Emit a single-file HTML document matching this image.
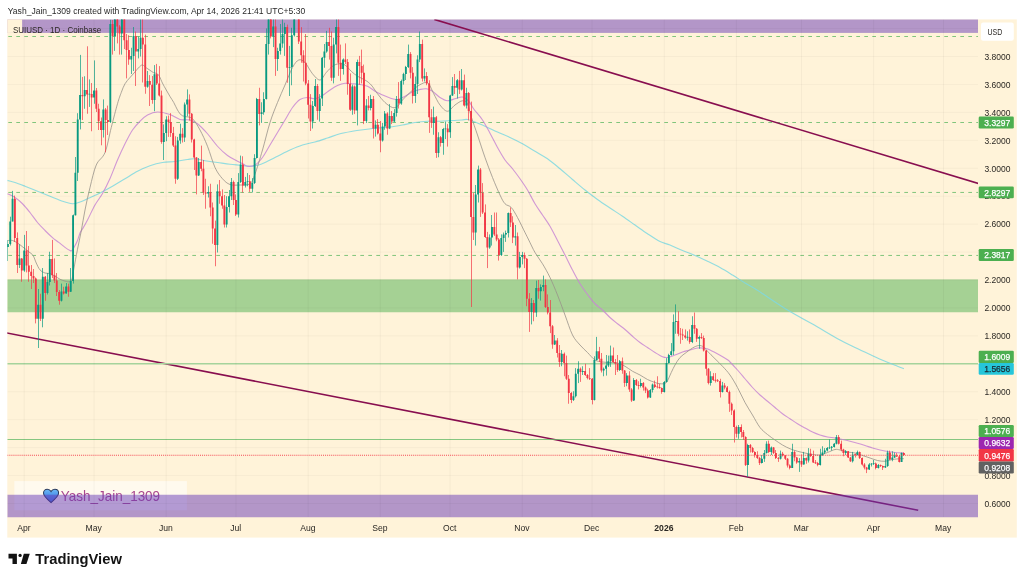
<!DOCTYPE html><html><head><meta charset="utf-8"><title>SUIUSD chart</title>
<style>html,body{margin:0;padding:0;background:#fff;}body{width:1024px;height:581px;overflow:hidden;position:relative;font-family:"Liberation Sans",sans-serif;}svg{position:absolute;left:0;top:0;will-change:transform;}text{font-family:"Liberation Sans",sans-serif;}</style></head><body>
<svg width="1024" height="581" viewBox="0 0 1024 581">
<defs><clipPath id="plot"><rect x="7.30" y="19.40" width="970.70" height="497.85"/></clipPath>
<linearGradient id="hg" x1="0" y1="0" x2="0" y2="1"><stop offset="0" stop-color="#6db8f5"/><stop offset="0.5" stop-color="#4a90e8"/><stop offset="1" stop-color="#3a6fe0"/></linearGradient></defs>
<rect x="0" y="0" width="1024" height="581" fill="#ffffff"/>
<rect x="7.30" y="19.40" width="1009.50" height="518.20" fill="#fff3d9"/>
<text x="7.8" y="13.6" font-size="9.7" fill="#2a2a2a" textLength="297.4" lengthAdjust="spacingAndGlyphs">Yash_Jain_1309 created with TradingView.com, Apr 14, 2026 21:41 UTC+5:30</text>
<g clip-path="url(#plot)">
<rect x="14.3" y="481.1" width="172.6" height="29.2" fill="#ffffff" fill-opacity="0.55"/>
<path transform="translate(43.5,489.3) scale(0.755,0.765)" d="M10 17.5 C 4 12.5, 0 9, 0 5 C 0 2, 2.2 0, 5 0 C 7 0, 9 1.2, 10 3 C 11 1.2, 13 0, 15 0 C 17.8 0, 20 2, 20 5 C 20 9, 16 12.5, 10 17.5 Z" fill="url(#hg)" stroke="#2a3a5c" stroke-width="1.35"/>
<text x="60.8" y="500.9" font-size="14.2" fill="#9e2f80" fill-opacity="0.88" textLength="99.3" lengthAdjust="spacingAndGlyphs">Yash_Jain_1309</text>
<line x1="0" y1="331.64" x2="918.2" y2="510.23" stroke="#880e4f" stroke-width="1.6" stroke-linecap="butt"/>
<rect x="7.30" y="17.40" width="970.70" height="15.50" fill="#673ab7" fill-opacity="0.5"/>
<rect x="7.30" y="494.75" width="970.70" height="30.00" fill="#673ab7" fill-opacity="0.5"/>
<rect x="7.30" y="279.40" width="970.70" height="32.85" fill="#4caf50" fill-opacity="0.5"/>
<line x1="7.30" y1="36.50" x2="978.00" y2="36.50" stroke="#5fb863" stroke-opacity="0.88" stroke-width="0.9" stroke-dasharray="3.7 4.3" stroke-dashoffset="-1"/>
<line x1="7.30" y1="122.50" x2="978.00" y2="122.50" stroke="#5fb863" stroke-opacity="0.88" stroke-width="0.9" stroke-dasharray="3.7 4.3" stroke-dashoffset="-1"/>
<line x1="7.30" y1="192.45" x2="978.00" y2="192.45" stroke="#5fb863" stroke-opacity="0.88" stroke-width="0.9" stroke-dasharray="3.7 4.3" stroke-dashoffset="-1"/>
<line x1="7.30" y1="255.45" x2="978.00" y2="255.45" stroke="#5fb863" stroke-opacity="0.88" stroke-width="0.9" stroke-dasharray="3.7 4.3" stroke-dashoffset="-1"/>
<line x1="7.30" y1="363.75" x2="978.00" y2="363.75" stroke="#a9d8a0" stroke-width="1.3"/>
<line x1="7.30" y1="439.50" x2="978.00" y2="439.50" stroke="#5db761" stroke-width="0.75"/>
<path d="M7.30 180.40C8.58 180.75 12.05 181.53 15.00 182.50C17.95 183.47 21.25 184.79 25.00 186.25C28.75 187.71 33.33 189.58 37.50 191.25C41.67 192.92 45.83 194.58 50.00 196.25C54.17 197.92 58.75 200.00 62.50 201.25C66.25 202.50 69.58 203.62 72.50 203.75C75.42 203.88 77.50 202.83 80.00 202.00C82.50 201.17 84.17 200.25 87.50 198.75C90.83 197.25 95.83 195.08 100.00 193.00C104.17 190.92 108.33 188.62 112.50 186.25C116.67 183.88 120.83 181.25 125.00 178.75C129.17 176.25 133.33 173.42 137.50 171.25C141.67 169.08 145.83 167.21 150.00 165.75C154.17 164.29 158.33 163.21 162.50 162.50C166.67 161.79 170.83 162.00 175.00 161.50C179.17 161.00 184.17 159.96 187.50 159.50C190.83 159.04 192.08 158.54 195.00 158.75C197.92 158.96 201.25 160.12 205.00 160.75C208.75 161.38 213.33 161.92 217.50 162.50C221.67 163.08 226.25 163.80 230.00 164.25C233.75 164.70 236.67 164.87 240.00 165.20C243.33 165.53 246.88 166.28 250.00 166.25C253.12 166.22 255.83 165.83 258.75 165.00C261.67 164.17 264.38 162.71 267.50 161.25C270.62 159.79 273.75 158.12 277.50 156.25C281.25 154.38 285.83 151.88 290.00 150.00C294.17 148.12 298.33 146.33 302.50 145.00C306.67 143.67 310.83 143.17 315.00 142.00C319.17 140.83 323.33 139.38 327.50 138.00C331.67 136.62 335.83 134.88 340.00 133.75C344.17 132.62 348.33 131.96 352.50 131.25C356.67 130.54 360.83 130.04 365.00 129.50C369.17 128.96 373.33 128.42 377.50 128.00C381.67 127.58 385.83 127.50 390.00 127.00C394.17 126.50 398.33 125.75 402.50 125.00C406.67 124.25 410.83 123.12 415.00 122.50C419.17 121.88 423.33 121.46 427.50 121.25C431.67 121.04 435.83 121.38 440.00 121.25C444.17 121.12 448.83 120.71 452.50 120.50C456.17 120.29 459.50 120.17 462.00 120.00C464.50 119.83 465.33 119.17 467.50 119.50C469.67 119.83 472.08 120.88 475.00 122.00C477.92 123.12 481.25 124.58 485.00 126.25C488.75 127.92 493.33 130.12 497.50 132.00C501.67 133.88 505.83 135.54 510.00 137.50C514.17 139.46 518.33 141.46 522.50 143.75C526.67 146.04 530.83 148.75 535.00 151.25C539.17 153.75 543.33 155.83 547.50 158.75C551.67 161.67 555.83 165.29 560.00 168.75C564.17 172.21 568.33 175.96 572.50 179.50C576.67 183.04 580.83 186.67 585.00 190.00C589.17 193.33 593.33 196.50 597.50 199.50C601.67 202.50 605.83 205.21 610.00 208.00C614.17 210.79 618.33 213.42 622.50 216.25C626.67 219.08 630.83 222.08 635.00 225.00C639.17 227.92 643.33 231.00 647.50 233.75C651.67 236.50 656.25 239.62 660.00 241.50C663.75 243.38 666.25 243.50 670.00 245.00C673.75 246.50 678.33 248.75 682.50 250.50C686.67 252.25 690.83 253.71 695.00 255.50C699.17 257.29 703.33 259.25 707.50 261.25C711.67 263.25 715.83 265.21 720.00 267.50C724.17 269.79 728.33 272.42 732.50 275.00C736.67 277.58 740.92 280.50 745.00 283.00C749.08 285.50 749.92 285.50 757.00 290.00C764.08 294.50 778.25 304.33 787.50 310.00C796.75 315.67 803.75 319.00 812.50 324.00C821.25 329.00 832.92 336.08 840.00 340.00C847.08 343.92 850.00 345.08 855.00 347.50C860.00 349.92 865.00 352.21 870.00 354.50C875.00 356.79 880.42 359.29 885.00 361.25C889.58 363.21 894.35 365.01 897.50 366.25C900.65 367.49 902.83 368.29 903.90 368.70" fill="none" stroke="#7fd8e0" stroke-opacity="0.85" stroke-width="1.15" stroke-linejoin="round"/>
<path d="M7.30 193.70C8.58 194.33 12.47 195.82 15.00 197.50C17.53 199.18 20.00 201.25 22.50 203.75C25.00 206.25 27.50 209.38 30.00 212.50C32.50 215.62 35.00 219.50 37.50 222.50C40.00 225.50 42.50 227.98 45.00 230.50C47.50 233.02 50.21 235.62 52.50 237.60C54.79 239.58 56.67 240.77 58.75 242.40C60.83 244.03 63.12 246.05 65.00 247.40C66.88 248.75 68.83 249.98 70.00 250.50C71.17 251.02 71.25 251.15 72.00 250.50C72.75 249.85 73.58 248.27 74.50 246.60C75.42 244.93 76.58 242.77 77.50 240.50C78.42 238.23 79.17 234.92 80.00 233.00C80.83 231.08 81.25 231.17 82.50 229.00C83.75 226.83 85.42 224.00 87.50 220.00C89.58 216.00 92.50 209.42 95.00 205.00C97.50 200.58 100.00 197.92 102.50 193.50C105.00 189.08 107.50 184.08 110.00 178.50C112.50 172.92 115.00 165.79 117.50 160.00C120.00 154.21 122.50 148.75 125.00 143.75C127.50 138.75 130.00 133.75 132.50 130.00C135.00 126.25 137.50 123.75 140.00 121.25C142.50 118.75 144.58 116.54 147.50 115.00C150.42 113.46 153.75 112.08 157.50 112.00C161.25 111.92 166.25 113.25 170.00 114.50C173.75 115.75 176.67 118.58 180.00 119.50C183.33 120.42 187.08 119.29 190.00 120.00C192.92 120.71 194.58 121.46 197.50 123.75C200.42 126.04 204.17 130.00 207.50 133.75C210.83 137.50 214.17 142.62 217.50 146.25C220.83 149.88 224.17 153.00 227.50 155.50C230.83 158.00 234.92 159.88 237.50 161.25C240.08 162.62 241.33 162.92 243.00 163.75C244.67 164.58 245.50 166.04 247.50 166.25C249.50 166.46 252.50 166.46 255.00 165.00C257.50 163.54 260.00 160.83 262.50 157.50C265.00 154.17 267.50 149.17 270.00 145.00C272.50 140.83 275.00 136.67 277.50 132.50C280.00 128.33 282.50 124.17 285.00 120.00C287.50 115.83 290.00 110.92 292.50 107.50C295.00 104.08 297.50 101.17 300.00 99.50C302.50 97.83 305.00 97.62 307.50 97.50C310.00 97.38 312.50 99.08 315.00 98.75C317.50 98.42 320.00 96.96 322.50 95.50C325.00 94.04 327.50 91.67 330.00 90.00C332.50 88.33 335.00 86.62 337.50 85.50C340.00 84.38 342.50 83.54 345.00 83.25C347.50 82.96 350.00 83.54 352.50 83.75C355.00 83.96 357.50 84.08 360.00 84.50C362.50 84.92 365.00 85.12 367.50 86.25C370.00 87.38 372.50 89.79 375.00 91.25C377.50 92.71 380.00 93.88 382.50 95.00C385.00 96.12 387.50 97.25 390.00 98.00C392.50 98.75 395.00 99.79 397.50 99.50C400.00 99.21 402.50 97.50 405.00 96.25C407.50 95.00 410.00 93.12 412.50 92.00C415.00 90.88 417.71 90.04 420.00 89.50C422.29 88.96 424.17 88.46 426.25 88.75C428.33 89.04 430.21 89.79 432.50 91.25C434.79 92.71 437.50 95.92 440.00 97.50C442.50 99.08 445.00 100.54 447.50 100.75C450.00 100.96 452.50 99.38 455.00 98.75C457.50 98.12 460.21 96.58 462.50 97.00C464.79 97.42 466.88 99.25 468.75 101.25C470.62 103.25 471.46 105.88 473.75 109.00C476.04 112.12 479.79 115.97 482.50 120.00C485.21 124.03 487.50 128.62 490.00 133.20C492.50 137.78 495.00 143.03 497.50 147.50C500.00 151.97 502.50 156.46 505.00 160.00C507.50 163.54 510.00 165.62 512.50 168.75C515.00 171.88 517.50 175.21 520.00 178.75C522.50 182.29 525.00 185.83 527.50 190.00C530.00 194.17 532.50 199.58 535.00 203.75C537.50 207.92 540.00 211.25 542.50 215.00C545.00 218.75 547.50 222.00 550.00 226.25C552.50 230.50 555.00 235.71 557.50 240.50C560.00 245.29 562.50 250.08 565.00 255.00C567.50 259.92 570.00 265.21 572.50 270.00C575.00 274.79 577.50 279.67 580.00 283.75C582.50 287.83 585.00 291.17 587.50 294.50C590.00 297.83 592.50 301.17 595.00 303.75C597.50 306.33 600.00 307.71 602.50 310.00C605.00 312.29 607.50 315.21 610.00 317.50C612.50 319.79 615.00 321.75 617.50 323.75C620.00 325.75 622.50 327.42 625.00 329.50C627.50 331.58 630.00 334.08 632.50 336.25C635.00 338.42 637.50 340.62 640.00 342.50C642.50 344.38 645.00 345.83 647.50 347.50C650.00 349.17 652.50 350.96 655.00 352.50C657.50 354.04 660.42 355.92 662.50 356.75C664.58 357.58 665.42 357.79 667.50 357.50C669.58 357.21 672.50 355.92 675.00 355.00C677.50 354.08 680.00 352.83 682.50 352.00C685.00 351.17 687.50 350.67 690.00 350.00C692.50 349.33 695.00 348.29 697.50 348.00C700.00 347.71 702.92 347.92 705.00 348.25C707.08 348.58 707.50 348.82 710.00 350.00C712.50 351.18 717.08 353.67 720.00 355.30C722.92 356.93 725.83 358.68 727.50 359.80C729.17 360.92 728.33 360.30 730.00 362.00C731.67 363.70 735.00 367.21 737.50 370.00C740.00 372.79 742.50 375.83 745.00 378.75C747.50 381.67 750.00 384.79 752.50 387.50C755.00 390.21 757.50 392.71 760.00 395.00C762.50 397.29 765.00 399.17 767.50 401.25C770.00 403.33 772.50 405.42 775.00 407.50C777.50 409.58 780.00 411.88 782.50 413.75C785.00 415.62 787.50 417.08 790.00 418.75C792.50 420.42 795.00 422.21 797.50 423.75C800.00 425.29 802.50 426.62 805.00 428.00C807.50 429.38 810.00 430.83 812.50 432.00C815.00 433.17 817.50 434.17 820.00 435.00C822.50 435.83 825.00 436.50 827.50 437.00C830.00 437.50 832.50 437.58 835.00 438.00C837.50 438.42 840.00 438.96 842.50 439.50C845.00 440.04 847.50 440.62 850.00 441.25C852.50 441.88 855.00 442.54 857.50 443.25C860.00 443.96 862.50 444.71 865.00 445.50C867.50 446.29 870.00 447.25 872.50 448.00C875.00 448.75 877.50 449.42 880.00 450.00C882.50 450.58 885.00 451.08 887.50 451.50C890.00 451.92 892.27 452.27 895.00 452.50C897.73 452.73 902.42 452.83 903.90 452.90" fill="none" stroke="#c987d3" stroke-opacity="0.85" stroke-width="1.1" stroke-linejoin="round"/>
<path d="M8.10 240.50C8.83 240.50 10.93 240.08 12.50 240.50C14.07 240.92 15.83 241.96 17.50 243.00C19.17 244.04 20.62 245.29 22.50 246.75C24.38 248.21 26.98 250.29 28.75 251.75C30.52 253.21 31.85 253.62 33.10 255.50C34.35 257.38 35.10 260.60 36.25 263.00C37.40 265.40 38.54 268.23 40.00 269.90C41.46 271.57 43.33 272.38 45.00 273.00C46.67 273.62 48.33 273.08 50.00 273.60C51.67 274.12 53.33 275.16 55.00 276.10C56.67 277.04 58.33 278.42 60.00 279.25C61.67 280.08 63.33 280.68 65.00 281.10C66.67 281.52 68.83 282.10 70.00 281.75C71.17 281.40 71.38 281.08 72.00 279.00C72.62 276.92 72.83 274.21 73.75 269.25C74.67 264.29 76.25 255.62 77.50 249.25C78.75 242.88 80.00 237.54 81.25 231.00C82.50 224.46 83.54 217.25 85.00 210.00C86.46 202.75 88.12 195.00 90.00 187.50C91.88 180.00 93.75 170.83 96.25 165.00C98.75 159.17 102.50 158.75 105.00 152.50C107.50 146.25 109.17 135.62 111.25 127.50C113.33 119.38 115.83 109.58 117.50 103.75C119.17 97.92 120.00 95.83 121.25 92.50C122.50 89.17 123.54 86.25 125.00 83.75C126.46 81.25 128.33 79.47 130.00 77.50C131.67 75.53 133.43 73.67 135.00 71.90C136.57 70.13 138.15 68.05 139.40 66.90C140.65 65.75 141.36 64.85 142.50 65.00C143.64 65.15 145.00 66.92 146.25 67.80C147.50 68.68 148.79 69.50 150.00 70.30C151.21 71.10 152.33 72.05 153.50 72.60C154.67 73.15 156.00 72.95 157.00 73.60C158.00 74.25 158.60 74.93 159.50 76.50C160.40 78.07 161.28 80.75 162.40 83.00C163.53 85.25 164.98 87.75 166.25 90.00C167.52 92.25 168.75 94.42 170.00 96.50C171.25 98.58 172.50 100.25 173.75 102.50C175.00 104.75 176.25 107.92 177.50 110.00C178.75 112.08 180.00 113.92 181.25 115.00C182.50 116.08 183.12 115.88 185.00 116.50C186.88 117.12 190.00 116.50 192.50 118.75C195.00 121.00 197.50 125.42 200.00 130.00C202.50 134.58 205.00 140.00 207.50 146.25C210.00 152.50 212.50 162.08 215.00 167.50C217.50 172.92 220.00 175.92 222.50 178.75C225.00 181.58 227.08 183.46 230.00 184.50C232.92 185.54 236.67 185.12 240.00 185.00C243.33 184.88 247.50 185.58 250.00 183.75C252.50 181.92 252.92 179.62 255.00 174.00C257.08 168.38 260.00 158.58 262.50 150.00C265.00 141.42 267.50 130.42 270.00 122.50C272.50 114.58 275.00 108.75 277.50 102.50C280.00 96.25 282.50 90.83 285.00 85.00C287.50 79.17 290.21 71.67 292.50 67.50C294.79 63.33 296.67 60.83 298.75 60.00C300.83 59.17 302.71 60.21 305.00 62.50C307.29 64.79 310.00 70.83 312.50 73.75C315.00 76.67 317.71 80.21 320.00 80.00C322.29 79.79 324.17 74.79 326.25 72.50C328.33 70.21 330.42 67.71 332.50 66.25C334.58 64.79 336.67 63.96 338.75 63.75C340.83 63.54 342.92 63.75 345.00 65.00C347.08 66.25 349.17 69.38 351.25 71.25C353.33 73.12 355.21 74.79 357.50 76.25C359.79 77.71 362.71 78.54 365.00 80.00C367.29 81.46 369.17 82.71 371.25 85.00C373.33 87.29 375.21 90.83 377.50 93.75C379.79 96.67 382.50 100.21 385.00 102.50C387.50 104.79 390.42 106.88 392.50 107.50C394.58 108.12 395.83 107.50 397.50 106.25C399.17 105.00 400.42 102.29 402.50 100.00C404.58 97.71 407.50 94.79 410.00 92.50C412.50 90.21 415.00 87.92 417.50 86.25C420.00 84.58 423.12 82.92 425.00 82.50C426.88 82.08 427.29 81.88 428.75 83.75C430.21 85.62 431.88 90.21 433.75 93.75C435.62 97.29 437.71 102.08 440.00 105.00C442.29 107.92 445.00 111.25 447.50 111.25C450.00 111.25 452.50 106.75 455.00 105.00C457.50 103.25 460.42 100.96 462.50 100.75C464.58 100.54 466.00 100.96 467.50 103.75C469.00 106.54 469.83 112.29 471.50 117.50C473.17 122.71 475.25 128.33 477.50 135.00C479.75 141.67 482.50 150.42 485.00 157.50C487.50 164.58 490.00 171.25 492.50 177.50C495.00 183.75 497.92 190.62 500.00 195.00C502.08 199.38 503.12 201.67 505.00 203.75C506.88 205.83 509.17 205.21 511.25 207.50C513.33 209.79 515.21 213.33 517.50 217.50C519.79 221.67 523.12 228.75 525.00 232.50C526.88 236.25 527.08 236.67 528.75 240.00C530.42 243.33 532.71 248.54 535.00 252.50C537.29 256.46 540.00 259.58 542.50 263.75C545.00 267.92 547.50 272.29 550.00 277.50C552.50 282.71 555.00 288.75 557.50 295.00C560.00 301.25 562.50 308.33 565.00 315.00C567.50 321.67 570.00 330.00 572.50 335.00C575.00 340.00 577.50 342.08 580.00 345.00C582.50 347.92 585.00 350.00 587.50 352.50C590.00 355.00 592.50 358.42 595.00 360.00C597.50 361.58 600.00 361.58 602.50 362.00C605.00 362.42 607.50 362.33 610.00 362.50C612.50 362.67 615.00 362.38 617.50 363.00C620.00 363.62 622.50 364.88 625.00 366.25C627.50 367.62 630.00 369.79 632.50 371.25C635.00 372.71 637.50 373.62 640.00 375.00C642.50 376.38 645.00 378.25 647.50 379.50C650.00 380.75 652.92 381.79 655.00 382.50C657.08 383.21 658.12 383.75 660.00 383.75C661.88 383.75 664.38 384.38 666.25 382.50C668.12 380.62 669.79 375.42 671.25 372.50C672.71 369.58 673.54 367.50 675.00 365.00C676.46 362.50 678.12 359.58 680.00 357.50C681.88 355.42 684.17 354.08 686.25 352.50C688.33 350.92 690.42 349.17 692.50 348.00C694.58 346.83 696.88 345.67 698.75 345.50C700.62 345.33 702.29 346.04 703.75 347.00C705.21 347.96 705.62 349.29 707.50 351.25C709.38 353.21 712.50 356.25 715.00 358.75C717.50 361.25 720.00 363.54 722.50 366.25C725.00 368.96 727.50 371.46 730.00 375.00C732.50 378.54 735.00 382.92 737.50 387.50C740.00 392.08 742.50 397.92 745.00 402.50C747.50 407.08 750.00 410.83 752.50 415.00C755.00 419.17 757.50 424.25 760.00 427.50C762.50 430.75 765.00 432.42 767.50 434.50C770.00 436.58 772.50 438.25 775.00 440.00C777.50 441.75 780.00 443.54 782.50 445.00C785.00 446.46 787.50 447.71 790.00 448.75C792.50 449.79 795.00 450.54 797.50 451.25C800.00 451.96 802.50 452.46 805.00 453.00C807.50 453.54 810.00 454.17 812.50 454.50C815.00 454.83 817.50 455.33 820.00 455.00C822.50 454.67 825.00 453.42 827.50 452.50C830.00 451.58 832.92 449.92 835.00 449.50C837.08 449.08 837.92 449.58 840.00 450.00C842.08 450.42 845.00 451.50 847.50 452.00C850.00 452.50 852.50 452.42 855.00 453.00C857.50 453.58 860.00 454.67 862.50 455.50C865.00 456.33 867.50 457.17 870.00 458.00C872.50 458.83 875.00 459.96 877.50 460.50C880.00 461.04 882.50 461.42 885.00 461.25C887.50 461.08 890.00 459.93 892.50 459.50C895.00 459.07 898.10 458.83 900.00 458.70C901.90 458.57 903.25 458.70 903.90 458.70" fill="none" stroke="#99938a" stroke-opacity="0.85" stroke-width="0.95" stroke-linejoin="round"/>

<path d="M7.50 240.00V261.00M10.50 216.70V245.50M12.50 190.90V221.40M19.50 244.30V268.00M24.50 234.90V271.75M38.50 289.00V348.00M42.50 268.00V327.30M47.50 273.00V294.50M49.50 251.75V285.50M61.50 283.60V301.50M66.50 283.00V293.50M70.50 268.00V292.00M73.50 214.50V283.60M75.50 157.00V215.50M77.50 113.20V181.00M80.50 54.90V129.40M84.50 76.25V108.75M89.50 79.40V106.90M94.50 60.40V103.75M103.50 99.40V137.50M110.50 19.60V123.00M114.50 10.00V50.90M121.50 10.00V54.60M131.50 47.75V74.00M133.50 27.00V71.00M138.50 36.50V58.40M140.50 15.00V56.50M147.50 71.00V87.75M154.50 65.10V111.25M163.50 124.40V160.00M166.50 116.25V141.25M177.50 136.90V180.00M180.50 123.75V143.75M184.50 102.50V141.90M187.50 89.40V116.25M198.50 158.00V176.00M208.50 186.25V197.50M217.50 184.40V252.50M226.50 196.25V227.50M229.50 190.00V212.50M231.50 178.00V200.00M238.50 173.10V217.50M240.50 155.60V183.00M245.50 176.90V187.50M247.50 173.10V186.25M252.50 178.10V192.50M254.50 154.20V184.00M256.50 97.90V158.50M261.50 102.25V122.90M263.50 92.25V114.75M266.50 28.40V99.50M268.50 10.00V54.60M273.50 15.00V47.10M277.50 47.75V70.90M280.50 24.00V54.60M282.50 15.00V47.75M284.50 22.75V55.90M289.50 45.90V96.00M291.50 27.75V85.25M294.50 10.00V36.50M296.50 5.00V18.00M312.50 101.00V128.50M315.50 79.00V107.00M319.50 94.10V121.60M322.50 57.00V106.00M324.50 44.00V67.75M326.50 30.90V52.75M333.50 37.75V83.40M336.50 15.00V53.40M343.50 58.40V74.60M352.50 84.60V114.75M357.50 59.60V125.40M366.50 99.10V123.00M370.50 94.75V110.40M375.50 120.40V136.60M382.50 122.90V141.60M384.50 111.00V129.75M389.50 104.10V129.10M394.50 109.10V122.25M396.50 96.00V116.60M401.50 79.60V104.75M403.50 72.75V84.60M405.50 65.90V80.00M408.50 44.60V68.00M415.50 76.50V102.90M417.50 55.25V94.00M419.50 31.50V62.10M424.50 68.40V81.50M433.50 106.60V134.75M438.50 132.25V157.25M443.50 127.90V154.75M445.50 121.60V139.10M450.50 94.75V137.90M452.50 77.10V96.00M457.50 79.00V98.50M461.50 69.00V90.50M466.50 87.75V108.50M475.50 185.00V245.60M478.50 165.60V202.50M489.50 234.40V248.75M491.50 215.00V245.60M501.50 234.40V256.00M503.50 232.50V251.90M505.50 230.60V241.90M508.50 212.50V237.50M515.50 225.00V245.60M519.50 251.90V268.50M522.50 251.90V264.40M531.50 298.10V324.40M536.50 280.60V316.90M540.50 284.40V300.60M543.50 275.60V291.25M554.50 335.00V345.00M561.50 350.00V366.25M573.50 391.25V401.00M575.50 368.10V397.50M578.50 361.25V383.10M582.50 366.25V375.00M594.50 356.25V400.50M596.50 336.90V360.50M603.50 367.50V376.25M606.50 355.00V375.60M608.50 355.60V367.00M610.50 345.60V366.90M619.50 360.00V371.00M626.50 373.10V386.25M633.50 378.10V401.00M640.50 378.75V387.50M650.50 389.00V398.00M652.50 383.50V392.50M664.50 381.00V392.50M666.50 358.10V382.50M668.50 353.75V363.50M671.50 343.10V355.60M673.50 314.40V355.00M675.50 304.40V333.75M687.50 331.25V340.60M692.50 316.25V343.10M699.50 335.60V348.75M710.50 371.25V385.60M722.50 381.90V392.50M738.50 425.00V438.75M747.50 443.75V476.90M761.50 455.00V463.50M764.50 450.00V461.90M766.50 441.25V453.50M771.50 446.50V455.00M780.50 450.60V459.50M792.50 443.75V468.00M799.50 458.10V471.90M803.50 451.90V464.50M808.50 448.10V462.50M820.50 448.75V465.50M822.50 446.25V456.00M824.50 448.10V454.00M827.50 447.00V451.50M829.50 439.40V449.00M831.50 446.00V450.60M834.50 443.00V447.50M836.50 435.00V444.40M845.50 450.00V455.00M852.50 451.90V462.50M857.50 450.60V455.50M869.50 463.10V470.00M871.50 463.00V466.50M873.50 460.00V465.00M878.50 464.00V468.50M885.50 458.75V468.00M887.50 450.60V466.90M892.50 451.25V461.25M894.50 452.50V458.00M901.50 452.50V462.00" stroke="#089981" stroke-width="0.9" stroke-opacity="0.78" fill="none"/>
<path d="M14.50 195.60V242.00M17.50 232.40V273.00M21.50 258.00V281.75M26.50 231.00V272.40M28.50 246.00V281.75M31.50 265.00V289.00M33.50 269.00V283.00M35.50 277.50V323.40M40.50 293.75V321.00M45.50 276.00V300.80M52.50 239.90V278.00M54.50 258.40V283.00M56.50 273.00V296.00M59.50 290.00V304.70M63.50 286.75V294.50M68.50 283.60V296.75M82.50 76.90V120.00M87.50 46.30V113.75M91.50 83.00V131.25M96.50 88.00V112.00M98.50 103.75V130.00M101.50 117.50V145.30M105.50 108.00V152.30M107.50 105.60V135.00M112.50 20.00V54.60M117.50 10.00V43.40M119.50 25.00V54.60M124.50 10.00V49.00M126.50 34.00V78.40M128.50 35.25V64.80M135.50 31.50V86.00M142.50 15.00V82.50M145.50 34.60V93.75M149.50 75.10V106.00M152.50 76.00V103.75M156.50 63.90V85.00M159.50 66.10V96.50M161.50 90.60V143.75M168.50 115.60V136.90M170.50 113.10V136.90M173.50 126.90V147.00M175.50 136.25V183.75M182.50 128.10V142.50M189.50 94.40V120.60M191.50 113.00V142.50M194.50 138.75V170.00M196.50 157.00V194.40M201.50 145.60V171.25M203.50 160.00V195.00M205.50 178.75V208.75M210.50 183.75V216.25M212.50 202.50V243.75M215.50 220.60V266.25M219.50 180.00V203.75M222.50 189.40V208.75M224.50 195.00V227.50M233.50 180.60V205.00M235.50 194.40V216.00M242.50 156.25V192.50M249.50 175.00V191.90M259.50 87.75V125.40M270.50 10.00V38.40M275.50 15.00V75.90M287.50 24.60V82.75M298.50 10.00V44.00M301.50 27.10V62.75M303.50 50.25V81.50M305.50 34.00V85.25M308.50 80.00V118.50M310.50 94.10V131.00M317.50 84.00V119.75M329.50 27.75V59.60M331.50 31.50V80.90M338.50 15.00V75.90M340.50 44.60V80.90M345.50 43.40V64.00M347.50 59.00V94.75M350.50 73.40V111.00M354.50 85.50V114.10M359.50 55.90V84.60M361.50 49.60V83.40M363.50 64.60V124.10M368.50 96.00V110.40M373.50 96.00V138.50M377.50 119.10V134.50M380.50 121.00V152.25M387.50 112.25V134.75M391.50 111.00V124.10M398.50 82.10V108.50M410.50 52.10V78.40M412.50 67.10V103.50M422.50 39.60V81.50M426.50 72.10V85.25M429.50 80.25V132.90M431.50 109.10V127.90M436.50 116.00V157.90M440.50 136.00V146.60M447.50 124.10V146.60M454.50 74.00V94.00M459.50 70.90V94.00M464.50 74.60V106.50M468.50 92.00V120.40M471.50 101.60V307.00M473.50 193.10V240.00M480.50 168.00V216.90M482.50 183.10V214.00M485.50 204.40V238.00M487.50 231.90V268.10M494.50 212.50V236.00M496.50 212.50V241.25M498.50 238.00V260.60M510.50 207.50V227.00M512.50 216.25V243.10M517.50 232.50V279.40M524.50 252.50V268.10M526.50 258.00V306.25M529.50 293.10V331.90M533.50 300.00V321.25M538.50 280.00V298.75M545.50 279.40V308.00M547.50 294.40V314.40M550.50 300.00V333.10M552.50 325.00V348.75M557.50 338.10V357.50M559.50 345.00V366.90M564.50 352.50V376.25M566.50 355.60V380.00M568.50 375.00V403.75M571.50 391.90V403.10M580.50 367.50V381.90M585.50 363.75V376.00M587.50 374.00V379.40M589.50 368.10V380.00M592.50 378.00V404.40M599.50 346.90V361.90M601.50 353.00V372.50M613.50 347.50V363.00M615.50 359.00V375.00M617.50 355.00V371.90M622.50 357.50V373.75M624.50 370.00V386.90M629.50 371.25V391.90M631.50 388.10V401.90M636.50 379.00V386.00M638.50 381.25V389.40M643.50 382.00V390.60M645.50 386.50V393.10M647.50 388.75V398.50M654.50 380.60V388.00M657.50 376.25V388.50M659.50 383.75V388.75M661.50 387.50V393.75M678.50 311.25V336.25M680.50 328.00V343.75M682.50 328.75V340.00M685.50 329.40V338.75M689.50 329.40V343.75M694.50 312.50V333.75M696.50 328.00V341.90M701.50 333.10V339.00M703.50 335.60V351.50M706.50 350.00V375.60M708.50 368.00V384.40M713.50 373.10V381.00M715.50 373.10V382.50M717.50 379.00V382.00M720.50 378.75V397.50M724.50 383.10V389.40M727.50 386.00V392.50M729.50 390.60V411.90M731.50 402.50V415.00M734.50 409.40V442.50M736.50 425.60V437.50M741.50 424.40V437.50M743.50 430.00V440.00M745.50 436.25V466.00M750.50 444.00V452.50M752.50 446.90V453.00M754.50 451.25V457.50M757.50 451.25V459.00M759.50 456.90V465.00M768.50 440.60V453.10M773.50 447.00V454.00M775.50 450.00V459.00M778.50 457.00V461.90M782.50 451.90V456.50M785.50 455.00V460.00M787.50 458.00V467.50M789.50 464.40V469.40M794.50 450.60V461.25M796.50 456.90V463.75M801.50 454.40V466.90M806.50 457.50V463.75M810.50 448.75V457.00M813.50 450.60V463.00M815.50 460.00V464.00M817.50 461.90V466.25M838.50 435.00V444.50M841.50 440.60V451.25M843.50 448.75V456.25M848.50 451.00V458.00M850.50 456.90V462.00M855.50 453.75V457.50M859.50 451.50V459.00M862.50 457.50V465.60M864.50 463.10V469.40M866.50 466.90V473.10M875.50 462.50V469.40M880.50 464.50V467.00M882.50 465.50V470.00M889.50 450.60V460.00M896.50 453.10V457.00M899.50 455.00V462.50M903.50 452.50V456.00" stroke="#f23645" stroke-width="0.9" stroke-opacity="0.78" fill="none"/>
<path d="M6.96 244.00h1.90V247.00h-1.90zM9.29 221.40h1.90V244.00h-1.90zM11.61 198.80h1.90V221.40h-1.90zM18.60 258.60h1.90V265.00h-1.90zM23.25 250.50h1.90V270.50h-1.90zM37.21 304.70h1.90V318.75h-1.90zM41.87 276.70h1.90V318.75h-1.90zM46.52 282.00h1.90V293.00h-1.90zM48.85 259.00h1.90V282.00h-1.90zM60.49 291.40h1.90V300.80h-1.90zM65.14 286.50h1.90V293.50h-1.90zM69.80 281.00h1.90V291.75h-1.90zM72.12 215.20h1.90V281.00h-1.90zM74.45 172.70h1.90V215.20h-1.90zM76.78 119.50h1.90V172.70h-1.90zM79.11 95.00h1.90V119.50h-1.90zM83.76 90.00h1.90V96.20h-1.90zM88.41 93.80h1.90V94.60h-1.90zM93.07 90.60h1.90V97.50h-1.90zM102.38 109.40h1.90V130.00h-1.90zM109.36 23.90h1.90V122.00h-1.90zM114.01 17.00h1.90V35.90h-1.90zM121.00 17.00h1.90V33.40h-1.90zM130.31 55.90h1.90V59.60h-1.90zM132.63 35.90h1.90V55.90h-1.90zM137.29 49.00h1.90V51.50h-1.90zM139.62 37.75h1.90V49.00h-1.90zM146.60 81.00h1.90V86.70h-1.90zM153.58 74.30h1.90V100.00h-1.90zM162.89 133.10h1.90V141.90h-1.90zM165.22 119.40h1.90V133.10h-1.90zM176.85 140.60h1.90V178.75h-1.90zM179.18 133.75h1.90V140.60h-1.90zM183.83 104.40h1.90V137.50h-1.90zM186.16 99.40h1.90V104.40h-1.90zM197.80 161.90h1.90V175.60h-1.90zM207.11 192.00h1.90V193.50h-1.90zM216.42 191.25h1.90V245.00h-1.90zM225.73 206.90h1.90V224.40h-1.90zM228.05 196.25h1.90V206.90h-1.90zM230.38 181.90h1.90V196.25h-1.90zM237.36 181.90h1.90V214.40h-1.90zM239.69 164.40h1.90V181.90h-1.90zM244.34 181.90h1.90V185.60h-1.90zM246.67 181.17h1.90V181.97h-1.90zM251.33 183.10h1.90V188.75h-1.90zM253.65 158.00h1.90V183.10h-1.90zM255.98 99.10h1.90V158.00h-1.90zM260.63 112.25h1.90V114.10h-1.90zM262.96 99.10h1.90V112.25h-1.90zM265.29 44.00h1.90V99.10h-1.90zM267.62 17.00h1.90V44.00h-1.90zM272.27 26.50h1.90V36.50h-1.90zM276.93 50.90h1.90V59.00h-1.90zM279.25 43.40h1.90V50.90h-1.90zM281.58 34.00h1.90V43.40h-1.90zM283.91 27.10h1.90V34.00h-1.90zM288.56 66.97h1.90V67.78h-1.90zM290.89 35.25h1.90V67.00h-1.90zM293.22 17.00h1.90V35.25h-1.90zM295.54 12.00h1.90V17.00h-1.90zM311.84 106.00h1.90V121.60h-1.90zM314.16 85.90h1.90V106.00h-1.90zM318.82 98.50h1.90V111.00h-1.90zM321.14 57.75h1.90V98.50h-1.90zM323.47 51.50h1.90V57.75h-1.90zM325.80 42.10h1.90V51.50h-1.90zM332.78 44.60h1.90V77.75h-1.90zM335.11 27.10h1.90V44.60h-1.90zM342.09 59.60h1.90V69.00h-1.90zM351.40 86.50h1.90V109.75h-1.90zM356.05 62.10h1.90V110.40h-1.90zM365.36 105.40h1.90V121.00h-1.90zM370.02 99.10h1.90V107.90h-1.90zM374.67 124.75h1.90V128.50h-1.90zM381.65 126.50h1.90V140.40h-1.90zM383.98 113.50h1.90V126.50h-1.90zM388.64 116.00h1.90V128.50h-1.90zM393.29 112.90h1.90V121.60h-1.90zM395.62 99.10h1.90V112.90h-1.90zM400.27 80.90h1.90V103.50h-1.90zM402.60 74.00h1.90V80.90h-1.90zM404.93 67.10h1.90V74.00h-1.90zM407.25 54.00h1.90V67.10h-1.90zM414.24 84.00h1.90V96.00h-1.90zM416.56 59.60h1.90V84.00h-1.90zM418.89 44.00h1.90V59.60h-1.90zM423.55 76.00h1.90V78.40h-1.90zM432.85 117.25h1.90V122.90h-1.90zM437.51 137.25h1.90V152.90h-1.90zM442.16 129.10h1.90V142.90h-1.90zM444.49 128.40h1.90V129.20h-1.90zM449.15 95.40h1.90V132.25h-1.90zM451.47 85.90h1.90V95.40h-1.90zM456.13 80.25h1.90V87.75h-1.90zM460.78 80.25h1.90V89.60h-1.90zM465.44 92.90h1.90V105.40h-1.90zM474.75 194.40h1.90V232.50h-1.90zM477.07 169.40h1.90V194.40h-1.90zM488.71 237.50h1.90V247.50h-1.90zM491.04 226.90h1.90V237.50h-1.90zM500.35 238.10h1.90V255.00h-1.90zM502.67 234.40h1.90V238.10h-1.90zM505.00 233.10h1.90V234.40h-1.90zM507.33 213.10h1.90V233.10h-1.90zM514.31 236.25h1.90V237.50h-1.90zM518.96 256.90h1.90V267.50h-1.90zM521.29 255.00h1.90V256.90h-1.90zM530.60 303.10h1.90V311.90h-1.90zM535.26 288.10h1.90V312.50h-1.90zM539.91 286.90h1.90V291.25h-1.90zM542.24 285.00h1.90V286.90h-1.90zM553.87 340.60h1.90V344.40h-1.90zM560.86 353.75h1.90V361.90h-1.90zM572.49 396.25h1.90V400.00h-1.90zM574.82 373.75h1.90V396.25h-1.90zM577.15 368.75h1.90V373.75h-1.90zM581.80 371.00h1.90V371.90h-1.90zM593.44 360.00h1.90V400.00h-1.90zM595.77 351.25h1.90V360.00h-1.90zM602.75 368.75h1.90V370.60h-1.90zM605.08 365.60h1.90V368.75h-1.90zM607.40 361.25h1.90V365.60h-1.90zM609.73 355.60h1.90V361.25h-1.90zM619.04 361.25h1.90V370.00h-1.90zM626.02 375.60h1.90V383.10h-1.90zM633.00 380.00h1.90V400.60h-1.90zM639.98 383.10h1.90V386.00h-1.90zM649.29 390.00h1.90V397.50h-1.90zM651.62 384.40h1.90V390.00h-1.90zM663.26 381.90h1.90V391.90h-1.90zM665.58 363.00h1.90V381.90h-1.90zM667.91 355.00h1.90V363.00h-1.90zM670.24 351.25h1.90V355.00h-1.90zM672.57 321.90h1.90V351.25h-1.90zM674.89 321.00h1.90V321.90h-1.90zM686.53 336.85h1.90V337.65h-1.90zM691.19 325.00h1.90V341.90h-1.90zM698.17 337.00h1.90V338.75h-1.90zM709.80 376.25h1.90V383.10h-1.90zM721.44 385.60h1.90V391.90h-1.90zM737.73 426.90h1.90V433.75h-1.90zM747.04 445.00h1.90V465.00h-1.90zM761.00 458.75h1.90V463.00h-1.90zM763.33 453.00h1.90V458.75h-1.90zM765.66 443.75h1.90V453.00h-1.90zM770.31 447.50h1.90V451.90h-1.90zM779.62 453.75h1.90V458.75h-1.90zM791.26 451.90h1.90V468.00h-1.90zM798.24 461.00h1.90V462.50h-1.90zM802.90 458.10h1.90V464.40h-1.90zM807.55 453.75h1.90V460.60h-1.90zM819.19 455.00h1.90V465.00h-1.90zM821.51 452.50h1.90V455.00h-1.90zM823.84 450.60h1.90V452.50h-1.90zM826.17 448.10h1.90V450.60h-1.90zM828.50 447.40h1.90V448.20h-1.90zM830.82 446.85h1.90V447.65h-1.90zM833.15 443.75h1.90V447.00h-1.90zM835.48 437.00h1.90V443.75h-1.90zM844.79 451.25h1.90V453.00h-1.90zM851.77 454.40h1.90V461.25h-1.90zM856.42 451.90h1.90V455.00h-1.90zM868.06 464.40h1.90V469.40h-1.90zM870.39 463.68h1.90V464.47h-1.90zM872.71 463.23h1.90V464.02h-1.90zM877.37 465.00h1.90V468.00h-1.90zM884.35 466.00h1.90V467.50h-1.90zM886.68 452.50h1.90V466.00h-1.90zM891.33 457.50h1.90V459.40h-1.90zM893.66 455.60h1.90V457.50h-1.90zM900.64 453.10h1.90V461.90h-1.90z" fill="#089981"/>
<path d="M13.94 198.80h1.90V238.00h-1.90zM16.27 238.00h1.90V265.00h-1.90zM20.92 258.60h1.90V270.50h-1.90zM25.58 250.50h1.90V265.50h-1.90zM27.90 265.50h1.90V271.75h-1.90zM30.23 271.75h1.90V276.00h-1.90zM32.56 276.00h1.90V278.50h-1.90zM34.89 278.50h1.90V318.75h-1.90zM39.54 304.70h1.90V318.75h-1.90zM44.20 276.70h1.90V293.00h-1.90zM51.18 259.00h1.90V275.20h-1.90zM53.50 275.20h1.90V280.60h-1.90zM55.83 280.60h1.90V292.00h-1.90zM58.16 292.00h1.90V300.80h-1.90zM62.81 291.40h1.90V293.50h-1.90zM67.47 286.50h1.90V291.75h-1.90zM81.43 95.00h1.90V96.20h-1.90zM86.09 90.00h1.90V94.40h-1.90zM90.74 94.00h1.90V97.50h-1.90zM95.40 90.60h1.90V108.75h-1.90zM97.72 108.75h1.90V121.25h-1.90zM100.05 121.25h1.90V130.00h-1.90zM104.71 109.40h1.90V120.00h-1.90zM107.03 120.00h1.90V122.00h-1.90zM111.69 23.90h1.90V35.90h-1.90zM116.34 17.00h1.90V26.50h-1.90zM118.67 26.50h1.90V33.40h-1.90zM123.32 17.00h1.90V40.25h-1.90zM125.65 40.25h1.90V50.00h-1.90zM127.98 50.00h1.90V59.60h-1.90zM134.96 35.90h1.90V51.50h-1.90zM141.94 37.75h1.90V44.60h-1.90zM144.27 44.60h1.90V86.70h-1.90zM148.92 81.00h1.90V84.80h-1.90zM151.25 84.80h1.90V100.00h-1.90zM155.91 74.30h1.90V83.60h-1.90zM158.23 83.60h1.90V95.60h-1.90zM160.56 95.60h1.90V141.90h-1.90zM167.54 119.40h1.90V122.00h-1.90zM169.87 122.00h1.90V133.10h-1.90zM172.20 133.10h1.90V145.60h-1.90zM174.52 145.60h1.90V178.75h-1.90zM181.51 133.75h1.90V137.50h-1.90zM188.49 99.40h1.90V113.75h-1.90zM190.82 113.75h1.90V139.40h-1.90zM193.14 139.40h1.90V157.50h-1.90zM195.47 157.50h1.90V175.60h-1.90zM200.12 161.90h1.90V168.75h-1.90zM202.45 168.75h1.90V192.50h-1.90zM204.78 192.50h1.90V193.50h-1.90zM209.43 192.00h1.90V207.50h-1.90zM211.76 207.50h1.90V228.50h-1.90zM214.09 228.50h1.90V245.00h-1.90zM218.74 191.25h1.90V196.25h-1.90zM221.07 196.25h1.90V205.60h-1.90zM223.40 205.60h1.90V224.40h-1.90zM232.71 181.90h1.90V200.00h-1.90zM235.03 200.00h1.90V214.40h-1.90zM242.02 164.40h1.90V185.60h-1.90zM249.00 181.25h1.90V188.75h-1.90zM258.31 99.10h1.90V114.10h-1.90zM269.94 17.00h1.90V36.50h-1.90zM274.60 26.50h1.90V59.00h-1.90zM286.23 27.10h1.90V67.75h-1.90zM297.87 12.00h1.90V41.50h-1.90zM300.20 41.50h1.90V55.25h-1.90zM302.53 55.25h1.90V62.75h-1.90zM304.85 62.75h1.90V83.40h-1.90zM307.18 83.40h1.90V104.75h-1.90zM309.51 104.75h1.90V121.60h-1.90zM316.49 85.90h1.90V111.00h-1.90zM328.13 42.10h1.90V45.90h-1.90zM330.45 45.90h1.90V77.75h-1.90zM337.44 27.10h1.90V62.75h-1.90zM339.76 62.75h1.90V69.00h-1.90zM344.42 59.60h1.90V62.10h-1.90zM346.74 62.10h1.90V84.00h-1.90zM349.07 84.00h1.90V109.75h-1.90zM353.73 86.50h1.90V110.40h-1.90zM358.38 62.10h1.90V65.90h-1.90zM360.71 65.90h1.90V72.75h-1.90zM363.04 72.75h1.90V121.00h-1.90zM367.69 105.40h1.90V107.90h-1.90zM372.35 99.10h1.90V128.50h-1.90zM377.00 124.75h1.90V133.50h-1.90zM379.33 133.50h1.90V140.40h-1.90zM386.31 113.50h1.90V128.50h-1.90zM390.96 116.00h1.90V121.60h-1.90zM397.95 99.10h1.90V103.50h-1.90zM409.58 54.00h1.90V72.75h-1.90zM411.91 72.75h1.90V96.00h-1.90zM421.22 44.00h1.90V78.40h-1.90zM425.87 76.00h1.90V83.40h-1.90zM428.20 83.40h1.90V117.25h-1.90zM430.53 117.25h1.90V122.90h-1.90zM435.18 117.25h1.90V152.90h-1.90zM439.84 137.25h1.90V142.90h-1.90zM446.82 128.50h1.90V132.25h-1.90zM453.80 85.90h1.90V87.75h-1.90zM458.46 80.25h1.90V89.60h-1.90zM463.11 80.25h1.90V105.40h-1.90zM467.76 92.90h1.90V111.00h-1.90zM470.09 111.00h1.90V216.90h-1.90zM472.42 216.90h1.90V232.50h-1.90zM479.40 169.40h1.90V193.10h-1.90zM481.73 193.10h1.90V212.50h-1.90zM484.06 212.50h1.90V236.90h-1.90zM486.38 236.90h1.90V247.50h-1.90zM493.36 226.90h1.90V234.40h-1.90zM495.69 234.40h1.90V239.40h-1.90zM498.02 239.40h1.90V255.00h-1.90zM509.66 213.10h1.90V222.50h-1.90zM511.98 222.50h1.90V237.50h-1.90zM516.64 236.25h1.90V267.50h-1.90zM523.62 255.00h1.90V258.75h-1.90zM525.95 258.75h1.90V298.75h-1.90zM528.27 298.75h1.90V311.90h-1.90zM532.93 303.10h1.90V312.50h-1.90zM537.58 288.10h1.90V291.25h-1.90zM544.57 285.00h1.90V306.90h-1.90zM546.89 306.90h1.90V312.50h-1.90zM549.22 312.50h1.90V326.25h-1.90zM551.55 326.25h1.90V344.40h-1.90zM556.20 340.60h1.90V353.10h-1.90zM558.53 353.10h1.90V361.90h-1.90zM563.18 353.75h1.90V363.10h-1.90zM565.51 363.10h1.90V378.75h-1.90zM567.84 378.75h1.90V393.10h-1.90zM570.17 393.10h1.90V400.00h-1.90zM579.47 368.75h1.90V371.90h-1.90zM584.13 371.00h1.90V375.00h-1.90zM586.46 375.00h1.90V378.10h-1.90zM588.78 378.03h1.90V378.82h-1.90zM591.11 378.75h1.90V400.00h-1.90zM598.09 351.25h1.90V358.75h-1.90zM600.42 358.75h1.90V370.60h-1.90zM612.06 355.60h1.90V361.90h-1.90zM614.38 361.90h1.90V363.75h-1.90zM616.71 363.75h1.90V370.00h-1.90zM621.37 361.25h1.90V370.60h-1.90zM623.69 370.60h1.90V383.10h-1.90zM628.35 375.60h1.90V389.40h-1.90zM630.68 389.40h1.90V400.60h-1.90zM635.33 380.00h1.90V385.00h-1.90zM637.66 385.00h1.90V386.00h-1.90zM642.31 383.10h1.90V387.50h-1.90zM644.64 387.50h1.90V390.60h-1.90zM646.97 390.60h1.90V397.50h-1.90zM653.95 384.40h1.90V386.90h-1.90zM656.28 386.55h1.90V387.35h-1.90zM658.60 387.00h1.90V388.00h-1.90zM660.93 388.00h1.90V391.90h-1.90zM677.22 321.00h1.90V333.75h-1.90zM679.55 333.73h1.90V334.52h-1.90zM681.88 334.50h1.90V335.60h-1.90zM684.20 335.60h1.90V337.50h-1.90zM688.86 337.00h1.90V341.90h-1.90zM693.51 325.00h1.90V328.75h-1.90zM695.84 328.75h1.90V338.75h-1.90zM700.49 337.00h1.90V338.00h-1.90zM702.82 338.00h1.90V350.60h-1.90zM705.15 350.60h1.90V368.75h-1.90zM707.48 368.75h1.90V383.10h-1.90zM712.13 376.25h1.90V380.00h-1.90zM714.46 379.85h1.90V380.65h-1.90zM716.79 380.35h1.90V381.15h-1.90zM719.11 381.00h1.90V391.90h-1.90zM723.77 385.60h1.90V387.50h-1.90zM726.09 387.50h1.90V391.90h-1.90zM728.42 391.90h1.90V403.75h-1.90zM730.75 403.75h1.90V410.60h-1.90zM733.08 410.60h1.90V426.90h-1.90zM735.40 426.90h1.90V433.75h-1.90zM740.06 426.90h1.90V431.90h-1.90zM742.39 431.90h1.90V436.90h-1.90zM744.71 436.90h1.90V465.00h-1.90zM749.37 445.00h1.90V448.00h-1.90zM751.69 448.00h1.90V451.90h-1.90zM754.02 451.90h1.90V455.00h-1.90zM756.35 455.00h1.90V458.00h-1.90zM758.68 458.00h1.90V463.00h-1.90zM767.99 443.75h1.90V451.90h-1.90zM772.64 447.50h1.90V453.00h-1.90zM774.97 453.00h1.90V458.00h-1.90zM777.30 457.98h1.90V458.77h-1.90zM781.95 453.75h1.90V455.50h-1.90zM784.28 455.50h1.90V458.75h-1.90zM786.60 458.75h1.90V465.60h-1.90zM788.93 465.60h1.90V468.00h-1.90zM793.59 451.90h1.90V457.50h-1.90zM795.91 457.50h1.90V462.50h-1.90zM800.57 461.00h1.90V464.40h-1.90zM805.22 458.10h1.90V460.60h-1.90zM809.88 453.75h1.90V456.00h-1.90zM812.20 456.00h1.90V462.50h-1.90zM814.53 462.35h1.90V463.15h-1.90zM816.86 463.00h1.90V465.00h-1.90zM837.81 437.00h1.90V443.75h-1.90zM840.13 443.75h1.90V449.40h-1.90zM842.46 449.40h1.90V453.00h-1.90zM847.11 451.25h1.90V457.50h-1.90zM849.44 457.50h1.90V461.25h-1.90zM854.10 454.30h1.90V455.10h-1.90zM858.75 451.90h1.90V458.10h-1.90zM861.08 458.10h1.90V464.40h-1.90zM863.41 464.40h1.90V467.50h-1.90zM865.73 467.50h1.90V469.40h-1.90zM875.04 463.50h1.90V468.00h-1.90zM879.70 465.00h1.90V466.00h-1.90zM882.02 466.00h1.90V467.50h-1.90zM889.01 452.50h1.90V459.40h-1.90zM895.99 455.60h1.90V456.50h-1.90zM898.31 456.50h1.90V461.90h-1.90zM902.97 453.10h1.90V455.00h-1.90z" fill="#f23645"/>
<line x1="24.20" y1="19.40" x2="24.20" y2="517.25" stroke="#000" stroke-opacity="0.05" stroke-width="0.8"/>
<line x1="94.02" y1="19.40" x2="94.02" y2="517.25" stroke="#000" stroke-opacity="0.05" stroke-width="0.8"/>
<line x1="166.17" y1="19.40" x2="166.17" y2="517.25" stroke="#000" stroke-opacity="0.05" stroke-width="0.8"/>
<line x1="235.98" y1="19.40" x2="235.98" y2="517.25" stroke="#000" stroke-opacity="0.05" stroke-width="0.8"/>
<line x1="308.13" y1="19.40" x2="308.13" y2="517.25" stroke="#000" stroke-opacity="0.05" stroke-width="0.8"/>
<line x1="380.28" y1="19.40" x2="380.28" y2="517.25" stroke="#000" stroke-opacity="0.05" stroke-width="0.8"/>
<line x1="450.10" y1="19.40" x2="450.10" y2="517.25" stroke="#000" stroke-opacity="0.05" stroke-width="0.8"/>
<line x1="522.24" y1="19.40" x2="522.24" y2="517.25" stroke="#000" stroke-opacity="0.05" stroke-width="0.8"/>
<line x1="592.06" y1="19.40" x2="592.06" y2="517.25" stroke="#000" stroke-opacity="0.05" stroke-width="0.8"/>
<line x1="664.21" y1="19.40" x2="664.21" y2="517.25" stroke="#000" stroke-opacity="0.05" stroke-width="0.8"/>
<line x1="736.35" y1="19.40" x2="736.35" y2="517.25" stroke="#000" stroke-opacity="0.05" stroke-width="0.8"/>
<line x1="801.52" y1="19.40" x2="801.52" y2="517.25" stroke="#000" stroke-opacity="0.05" stroke-width="0.8"/>
<line x1="873.66" y1="19.40" x2="873.66" y2="517.25" stroke="#000" stroke-opacity="0.05" stroke-width="0.8"/>
<line x1="943.48" y1="19.40" x2="943.48" y2="517.25" stroke="#000" stroke-opacity="0.05" stroke-width="0.8"/>
<line x1="7.30" y1="28.56" x2="978.00" y2="28.56" stroke="#000" stroke-opacity="0.045" stroke-width="0.8"/>
<line x1="7.30" y1="56.50" x2="978.00" y2="56.50" stroke="#000" stroke-opacity="0.045" stroke-width="0.8"/>
<line x1="7.30" y1="84.44" x2="978.00" y2="84.44" stroke="#000" stroke-opacity="0.045" stroke-width="0.8"/>
<line x1="7.30" y1="112.38" x2="978.00" y2="112.38" stroke="#000" stroke-opacity="0.045" stroke-width="0.8"/>
<line x1="7.30" y1="140.31" x2="978.00" y2="140.31" stroke="#000" stroke-opacity="0.045" stroke-width="0.8"/>
<line x1="7.30" y1="168.25" x2="978.00" y2="168.25" stroke="#000" stroke-opacity="0.045" stroke-width="0.8"/>
<line x1="7.30" y1="196.19" x2="978.00" y2="196.19" stroke="#000" stroke-opacity="0.045" stroke-width="0.8"/>
<line x1="7.30" y1="224.13" x2="978.00" y2="224.13" stroke="#000" stroke-opacity="0.045" stroke-width="0.8"/>
<line x1="7.30" y1="252.07" x2="978.00" y2="252.07" stroke="#000" stroke-opacity="0.045" stroke-width="0.8"/>
<line x1="7.30" y1="280.00" x2="978.00" y2="280.00" stroke="#000" stroke-opacity="0.045" stroke-width="0.8"/>
<line x1="7.30" y1="307.94" x2="978.00" y2="307.94" stroke="#000" stroke-opacity="0.045" stroke-width="0.8"/>
<line x1="7.30" y1="335.88" x2="978.00" y2="335.88" stroke="#000" stroke-opacity="0.045" stroke-width="0.8"/>
<line x1="7.30" y1="363.82" x2="978.00" y2="363.82" stroke="#000" stroke-opacity="0.045" stroke-width="0.8"/>
<line x1="7.30" y1="391.76" x2="978.00" y2="391.76" stroke="#000" stroke-opacity="0.045" stroke-width="0.8"/>
<line x1="7.30" y1="419.69" x2="978.00" y2="419.69" stroke="#000" stroke-opacity="0.045" stroke-width="0.8"/>
<line x1="7.30" y1="447.63" x2="978.00" y2="447.63" stroke="#000" stroke-opacity="0.045" stroke-width="0.8"/>
<line x1="7.30" y1="475.57" x2="978.00" y2="475.57" stroke="#000" stroke-opacity="0.045" stroke-width="0.8"/>
<line x1="7.30" y1="503.51" x2="978.00" y2="503.51" stroke="#000" stroke-opacity="0.045" stroke-width="0.8"/>
<line x1="434.3" y1="19.4" x2="985" y2="185.55" stroke="#880e4f" stroke-width="1.6"/>
<line x1="7.30" y1="455.25" x2="978.00" y2="455.25" stroke="#f23645" stroke-width="0.9" stroke-dasharray="1 1.05"/>
</g>
<rect x="7.30" y="19.4" width="14.8" height="13.5" fill="#fff3d9"/>
<text x="12.9" y="32.9" font-size="9.2" fill="#2b2824" textLength="88.2" lengthAdjust="spacingAndGlyphs">SUIUSD · 1D · Coinbase</text>
<text x="23.90" y="531.0" font-size="8.6" fill="#2b2824" text-anchor="middle">Apr</text>
<text x="93.72" y="531.0" font-size="8.6" fill="#2b2824" text-anchor="middle">May</text>
<text x="165.87" y="531.0" font-size="8.6" fill="#2b2824" text-anchor="middle">Jun</text>
<text x="235.68" y="531.0" font-size="8.6" fill="#2b2824" text-anchor="middle">Jul</text>
<text x="307.83" y="531.0" font-size="8.6" fill="#2b2824" text-anchor="middle">Aug</text>
<text x="379.98" y="531.0" font-size="8.6" fill="#2b2824" text-anchor="middle">Sep</text>
<text x="449.80" y="531.0" font-size="8.6" fill="#2b2824" text-anchor="middle">Oct</text>
<text x="521.94" y="531.0" font-size="8.6" fill="#2b2824" text-anchor="middle">Nov</text>
<text x="591.76" y="531.0" font-size="8.6" fill="#2b2824" text-anchor="middle">Dec</text>
<text x="663.91" y="531.0" font-size="8.6" fill="#2b2824" text-anchor="middle" font-weight="bold">2026</text>
<text x="736.05" y="531.0" font-size="8.6" fill="#2b2824" text-anchor="middle">Feb</text>
<text x="801.22" y="531.0" font-size="8.6" fill="#2b2824" text-anchor="middle">Mar</text>
<text x="873.36" y="531.0" font-size="8.6" fill="#2b2824" text-anchor="middle">Apr</text>
<text x="943.18" y="531.0" font-size="8.6" fill="#2b2824" text-anchor="middle">May</text>
<text x="984.4" y="59.75" font-size="9.6" fill="#2b2824" textLength="26" lengthAdjust="spacingAndGlyphs">3.8000</text>
<text x="984.4" y="87.69" font-size="9.6" fill="#2b2824" textLength="26" lengthAdjust="spacingAndGlyphs">3.6000</text>
<text x="984.4" y="115.63" font-size="9.6" fill="#2b2824" textLength="26" lengthAdjust="spacingAndGlyphs">3.4000</text>
<text x="984.4" y="143.56" font-size="9.6" fill="#2b2824" textLength="26" lengthAdjust="spacingAndGlyphs">3.2000</text>
<text x="984.4" y="171.50" font-size="9.6" fill="#2b2824" textLength="26" lengthAdjust="spacingAndGlyphs">3.0000</text>
<text x="984.4" y="199.44" font-size="9.6" fill="#2b2824" textLength="26" lengthAdjust="spacingAndGlyphs">2.8000</text>
<text x="984.4" y="227.38" font-size="9.6" fill="#2b2824" textLength="26" lengthAdjust="spacingAndGlyphs">2.6000</text>
<text x="984.4" y="255.32" font-size="9.6" fill="#2b2824" textLength="26" lengthAdjust="spacingAndGlyphs">2.4000</text>
<text x="984.4" y="283.25" font-size="9.6" fill="#2b2824" textLength="26" lengthAdjust="spacingAndGlyphs">2.2000</text>
<text x="984.4" y="311.19" font-size="9.6" fill="#2b2824" textLength="26" lengthAdjust="spacingAndGlyphs">2.0000</text>
<text x="984.4" y="339.13" font-size="9.6" fill="#2b2824" textLength="26" lengthAdjust="spacingAndGlyphs">1.8000</text>
<text x="984.4" y="367.07" font-size="9.6" fill="#2b2824" textLength="26" lengthAdjust="spacingAndGlyphs">1.6000</text>
<text x="984.4" y="395.01" font-size="9.6" fill="#2b2824" textLength="26" lengthAdjust="spacingAndGlyphs">1.4000</text>
<text x="984.4" y="422.94" font-size="9.6" fill="#2b2824" textLength="26" lengthAdjust="spacingAndGlyphs">1.2000</text>
<text x="984.4" y="450.88" font-size="9.6" fill="#2b2824" textLength="26" lengthAdjust="spacingAndGlyphs">1.0000</text>
<text x="984.4" y="478.82" font-size="9.6" fill="#2b2824" textLength="26" lengthAdjust="spacingAndGlyphs">0.8000</text>
<text x="984.4" y="506.76" font-size="9.6" fill="#2b2824" textLength="26" lengthAdjust="spacingAndGlyphs">0.6000</text>
<rect x="981" y="22.5" width="32.8" height="18.3" rx="2.2" fill="#ffffff"/>
<text x="994.9" y="35.2" font-size="8.7" fill="#2b2824" text-anchor="middle" textLength="14.8" lengthAdjust="spacingAndGlyphs">USD</text>
<rect x="978.7" y="116.60" width="35.1" height="11.90" rx="1.3" fill="#4caf50"/>
<text x="984.3" y="125.85" font-size="9.6" fill="#ffffff" stroke="#ffffff" stroke-width="0.25" textLength="26.0" lengthAdjust="spacingAndGlyphs">3.3297</text>
<rect x="978.7" y="186.50" width="35.1" height="11.70" rx="1.3" fill="#4caf50"/>
<text x="984.3" y="195.65" font-size="9.6" fill="#ffffff" stroke="#ffffff" stroke-width="0.25" textLength="26.0" lengthAdjust="spacingAndGlyphs">2.8297</text>
<rect x="978.7" y="249.00" width="35.1" height="12.00" rx="1.3" fill="#4caf50"/>
<text x="984.3" y="258.30" font-size="9.6" fill="#ffffff" stroke="#ffffff" stroke-width="0.25" textLength="26.0" lengthAdjust="spacingAndGlyphs">2.3817</text>
<rect x="978.7" y="350.80" width="35.1" height="12.20" rx="1.3" fill="#4caf50"/>
<text x="984.3" y="360.20" font-size="9.6" fill="#ffffff" stroke="#ffffff" stroke-width="0.25" textLength="26.0" lengthAdjust="spacingAndGlyphs">1.6009</text>
<rect x="978.7" y="363.00" width="35.1" height="11.80" rx="1.3" fill="#26c6da"/>
<text x="984.3" y="372.20" font-size="9.6" fill="#1b2a33" stroke="#1b2a33" stroke-width="0.25" textLength="26.0" lengthAdjust="spacingAndGlyphs">1.5656</text>
<rect x="978.7" y="425.00" width="35.1" height="12.00" rx="1.3" fill="#4caf50"/>
<text x="984.3" y="434.30" font-size="9.6" fill="#ffffff" stroke="#ffffff" stroke-width="0.25" textLength="26.0" lengthAdjust="spacingAndGlyphs">1.0576</text>
<rect x="978.7" y="437.00" width="35.1" height="12.00" rx="1.3" fill="#9c27b0"/>
<text x="984.3" y="446.30" font-size="9.6" fill="#ffffff" stroke="#ffffff" stroke-width="0.25" textLength="26.0" lengthAdjust="spacingAndGlyphs">0.9632</text>
<rect x="978.7" y="449.00" width="35.1" height="12.50" rx="1.3" fill="#f23645"/>
<text x="984.3" y="458.55" font-size="9.6" fill="#ffffff" stroke="#ffffff" stroke-width="0.25" textLength="26.0" lengthAdjust="spacingAndGlyphs">0.9476</text>
<rect x="978.7" y="461.50" width="35.1" height="12.00" rx="1.3" fill="#616161"/>
<text x="984.3" y="470.80" font-size="9.6" fill="#ffffff" stroke="#ffffff" stroke-width="0.25" textLength="26.0" lengthAdjust="spacingAndGlyphs">0.9208</text>
<g fill="#131313"><path d="M8.5 553.8h8.4v10.2h-4.4v-5.5h-4z"/><circle cx="20.1" cy="555.4" r="1.65"/><path d="M23.8 553.8h5.95l-3.3 10.2h-5.6z"/></g>
<text x="35.3" y="564" font-size="14" font-weight="bold" fill="#131313" textLength="86.6" lengthAdjust="spacingAndGlyphs">TradingView</text>
</svg></body></html>
